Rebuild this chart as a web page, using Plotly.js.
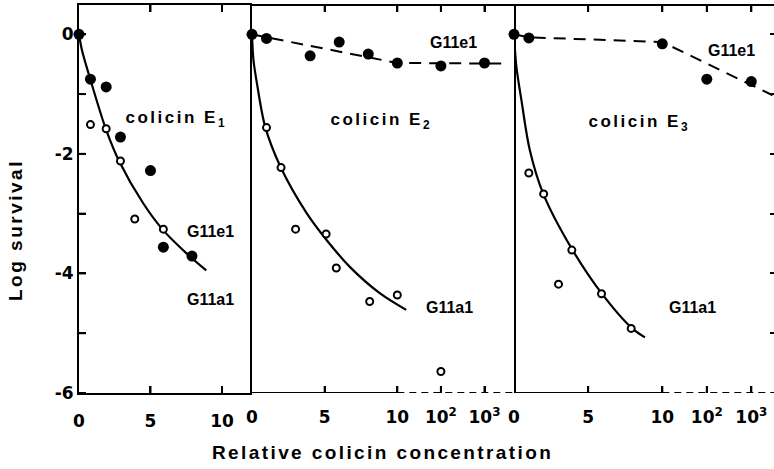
<!DOCTYPE html>
<html><head><meta charset="utf-8">
<script src="https://cdn.plot.ly/plotly-3.0.1.min.js"></script>
<style>html,body{margin:0;padding:0;background:#fff;overflow:hidden}</style>
</head><body><div id="chart" style="width:774px;height:469px"></div>
<script>
// ---- data (relative colicin concentration, log survival) ----
// colicin E1
const e1_G11e1_conc = [0, 0.8, 1.9, 2.9, 5.0, 5.9, 7.9];
const e1_G11e1_log  = [0, -0.75, -0.88, -1.72, -2.28, -3.56, -3.71];
const e1_G11a1_conc = [0.8, 1.9, 2.9, 3.9, 5.9];
const e1_G11a1_log  = [-1.51, -1.58, -2.12, -3.09, -3.26];
const e1_curve_conc = [0, 0.2, 0.8, 1.9, 2.8, 4.5, 5.9, 7.5, 8.9];
const e1_curve_log  = [0, -0.26, -0.76, -1.6, -2.12, -2.83, -3.28, -3.66, -3.95];
// colicin E2
const e2_G11e1_conc = [0, 1, 4, 6, 8, 10, 100, 1000];
const e2_G11e1_log  = [0, -0.07, -0.36, -0.13, -0.33, -0.48, -0.53, -0.48];
const e2_G11e1_fit_conc = [0, 1, 10, 3000];
const e2_G11e1_fit_log  = [0, -0.05, -0.48, -0.49];
const e2_G11a1_conc = [1, 2, 3, 5.1, 5.8, 8.1, 10, 100];
const e2_G11a1_log  = [-1.56, -2.23, -3.26, -3.34, -3.91, -4.47, -4.36, -5.64];
const e2_curve_conc = [0, 0.1, 0.34, 0.9, 1.95, 3.76, 5.13, 6.73, 8.79, 16];
const e2_curve_log  = [0, -0.43, -0.82, -1.54, -2.21, -2.99, -3.44, -3.89, -4.33, -4.61];
// colicin E3
const e3_G11e1_conc = [0, 1, 10, 100, 1000];
const e3_G11e1_log  = [0, -0.06, -0.16, -0.75, -0.79];
const e3_G11e1_fit_conc = [0, 1, 10, 3000];
const e3_G11e1_fit_log  = [0, -0.05, -0.13, -1.02];
const e3_G11a1_conc = [1, 2, 3, 3.9, 5.9, 7.9];
const e3_G11a1_log  = [-2.32, -2.67, -4.18, -3.61, -4.34, -4.92];
const e3_curve_conc = [0, 0.16, 0.5, 1.06, 1.96, 3.88, 5.9, 7.97, 8.83];
const e3_curve_log  = [0, -0.54, -1.1, -1.93, -2.66, -3.58, -4.33, -4.92, -5.07];
// ticks
const ticks1_conc = [0, 5, 10];
const ticks1_text = ['0', '5', '10'];
const ticksLog_conc = [0, 5, 10, 100, 1000];
const ticksLog_text = ['0', '5', '10', '10<sup>2</sup>', '10<sup>3</sup>'];
const yTicks = [-6, -5, -4, -3, -2, -1, 0];
const yTickText = ['-6', '', '-4', '', '-2', '', '0'];

// broken axis scale: linear up to 10, then log decades
const DECADE = 3;
function pos(c) { return c <= 10 ? c : 10 + DECADE * Math.log10(c / 10); }
const clone = o => JSON.parse(JSON.stringify(o));
const bold = s => s ? '<b>' + s + '</b>' : '';

const W = 774, H = 469;
const px = v => v / W, py = v => 1 - v / H;

const closed = {size: 11, color: '#000'};
const open = {size: 7, color: '#fff', line: {color: '#000', width: 2}};
const solid = {color: '#000', width: 2.2, shape: 'spline', smoothing: 0.9};
const dashed = {color: '#000', width: 2, dash: '12px,8px'};

function tr(xs, ys, ax, mode, style) {
  const t = {x: xs.map(pos), y: ys.slice(), xaxis: ax[0], yaxis: ax[1], mode: mode, cliponaxis: false, hoverinfo: 'skip', showlegend: false};
  if (mode === 'lines') t.line = clone(style); else t.marker = clone(style);
  return t;
}
const A1 = ['x', 'y'], A2 = ['x2', 'y2'], A3 = ['x3', 'y3'];
const data = [
  tr(e1_curve_conc, e1_curve_log, A1, 'lines', solid),
  tr(e1_G11a1_conc, e1_G11a1_log, A1, 'markers', open),
  tr(e1_G11e1_conc, e1_G11e1_log, A1, 'markers', closed),
  tr(e2_curve_conc, e2_curve_log, A2, 'lines', solid),
  tr(e2_G11e1_fit_conc, e2_G11e1_fit_log, A2, 'lines', dashed),
  tr(e2_G11a1_conc, e2_G11a1_log, A2, 'markers', open),
  tr(e2_G11e1_conc, e2_G11e1_log, A2, 'markers', closed),
  tr(e3_curve_conc, e3_curve_log, A3, 'lines', solid),
  tr(e3_G11e1_fit_conc, e3_G11e1_fit_log, A3, 'lines', dashed),
  tr(e3_G11a1_conc, e3_G11a1_log, A3, 'markers', open),
  tr(e3_G11e1_conc, e3_G11e1_log, A3, 'markers', closed)
];

const R1 = [0, 12.1], R2 = [0, 18.03], R3 = [0, 17.53], RY = [-6, 0.49];
const P1 = [79, 252], PY = [5, 393];
const D1 = [px(79), px(252)], D2 = [px(252), px(514)], D3 = [px(514), 1];
const DY = [py(PY[1]), py(PY[0])];

function axis(extra) {
  return Object.assign({showgrid: false, zeroline: false, ticks: 'inside', ticklen: 7, tickwidth: 2,
    tickcolor: '#000', linecolor: '#000', linewidth: 2, tickmode: 'array',
    tickfont: {family: 'DejaVu Sans', size: 17, color: '#000'}}, extra);
}

// backup inside tick marks (same length) at the axes' tick values
const TL = 7;
const tlY = TL * (RY[1] - RY[0]) / (PY[1] - PY[0]);
const tlX1 = TL * (R1[1] - R1[0]) / (P1[1] - P1[0]);
function tickShape(xref, yref, x0, x1, y0, y1) {
  return {type: 'line', xref: xref, yref: yref, x0: x0, x1: x1, y0: y0, y1: y1,
    line: {color: '#000', width: 2}, layer: 'above'};
}
const tickShapes = [];
[['x', 'y', ticks1_conc.slice(1)], ['x2', 'y2', ticksLog_conc.slice(1)], ['x3', 'y3', ticksLog_conc.slice(1)]].forEach(function (g) {
  g[2].forEach(function (c) {
    tickShapes.push(tickShape(g[0], g[1], pos(c), pos(c), RY[0], RY[0] + tlY));
    tickShapes.push(tickShape(g[0], g[1], pos(c), pos(c), RY[1], RY[1] - tlY));
  });
});
yTicks.forEach(function (v) { tickShapes.push(tickShape('x', 'y', 0, tlX1, v, v)); });

function ann(text, x, y, size, extra) {
  return Object.assign({text: text, x: px(x), y: py(y), xref: 'paper', yref: 'paper',
    xanchor: 'center', yanchor: 'middle', showarrow: false,
    font: {family: 'Liberation Sans', size: size || 16, weight: 'bold', color: '#000'}}, extra || {});
}

const layout = {
  width: W, height: H, margin: {l: 0, r: 0, t: 0, b: 0},
  paper_bgcolor: '#fff', plot_bgcolor: '#fff',
  font: {family: 'Liberation Sans', color: '#000'},
  xaxis:  axis({domain: D1, range: R1, anchor: 'y', showline: true, mirror: 'ticks',
    tickvals: ticks1_conc.map(pos), ticktext: ticks1_text.map(bold), ticklabelstandoff: 12}),
  xaxis2: axis({domain: D2, range: R2, anchor: 'y2', showline: false, mirror: 'ticks',
    tickvals: ticksLog_conc.map(pos), ticktext: ticksLog_text.map(bold), ticklabelstandoff: 12}),
  xaxis3: axis({domain: D3, range: R3, anchor: 'y3', showline: false, mirror: 'ticks',
    tickvals: ticksLog_conc.map(pos), ticktext: ticksLog_text.map(bold), ticklabelstandoff: 12}),
  yaxis:  axis({domain: DY, range: RY, anchor: 'x', showline: true,
    tickvals: yTicks.slice(), ticktext: yTickText.map(bold)}),
  yaxis2: axis({domain: DY, range: RY, anchor: 'x2', showline: true, mirror: true, ticks: '',
    showticklabels: false}),
  yaxis3: axis({domain: DY, range: RY, anchor: 'x3', side: 'right', showline: false,
    ticklen: 4, tickvals: yTicks.slice(1), showticklabels: false}),
  shapes: [
    {type: 'line', xref: 'paper', yref: 'paper', x0: px(252), x1: 1, y0: DY[1], y1: DY[1], line: {color: '#000', width: 2}, layer: 'above'},
    {type: 'line', xref: 'x2', yref: 'y2', x0: 0, x1: pos(10), y0: -6, y1: -6, line: {color: '#000', width: 2}, layer: 'above'},
    {type: 'line', xref: 'x2', yref: 'y2', x0: pos(10), x1: R2[1], y0: -6, y1: -6, line: {color: '#000', width: 2, dash: '7px,5px'}, layer: 'above'},
    {type: 'line', xref: 'x3', yref: 'y3', x0: 0, x1: pos(10), y0: -6, y1: -6, line: {color: '#000', width: 2}, layer: 'above'},
    {type: 'line', xref: 'x3', yref: 'y3', x0: pos(10), x1: R3[1], y0: -6, y1: -6, line: {color: '#000', width: 2, dash: '7px,5px'}, layer: 'above'}
  ].concat(tickShapes),
  annotations: [
    ann('colicin E<sub>1</sub>', 176, 119, 17),
    ann('colicin E<sub>2</sub>', 381, 121, 17),
    ann('colicin E<sub>3</sub>', 639, 123, 17),
    ann('G11e1', 210, 231),
    ann('G11a1', 210, 299),
    ann('G11e1', 453, 42),
    ann('G11a1', 449, 307),
    ann('G11e1', 731, 51),
    ann('G11a1', 692, 307),
    ann('Log survival', 16, 230, 19, {textangle: -90}),
    ann('Relative colicin concentration', 382, 452, 19)
  ]
};

Plotly.newPlot('chart', data, layout, {displayModeBar: false}).then(function () {
  document.querySelectorAll('.annotation-text').forEach(function (t) {
    const s = t.textContent;
    if (s.indexOf('colicin E') === 0) t.style.letterSpacing = '2.5px';
    else if (s.indexOf('Relative') === 0) t.style.letterSpacing = '2.4px';
    else if (s.indexOf('Log') === 0) t.style.letterSpacing = '2.5px';
  });
});
</script></body></html>
